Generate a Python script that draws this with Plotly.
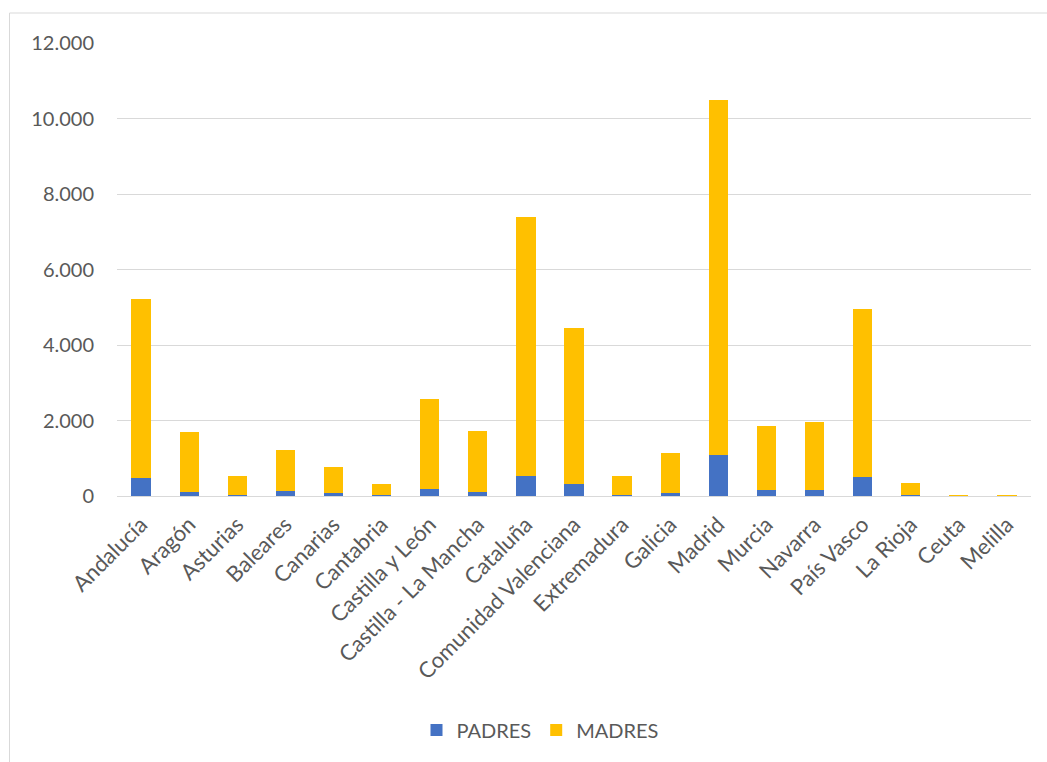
import plotly.graph_objects as go

regiones = [
    "Andalucía", "Aragón", "Asturias", "Baleares", "Canarias", "Cantabria",
    "Castilla y León", "Castilla - La Mancha", "Cataluña", "Comunidad Valenciana",
    "Extremadura", "Galicia", "Madrid", "Murcia", "Navarra", "País Vasco",
    "La Rioja", "Ceuta", "Melilla",
]
padres = [475, 100, 35, 130, 80, 20, 195, 115, 540, 325, 35, 90, 1090, 150, 165, 510, 20, 2, 2]
madres = [4750, 1590, 495, 1085, 680, 290, 2375, 1610, 6845, 4115, 495, 1045, 9405, 1700, 1790, 4435, 325, 8, 5]

AZUL = "#4472C4"
AMARILLO = "#FFC000"
GRIS_TEXTO = "#595959"
GRIS_LINEA = "#D9D9D9"
FUENTE = "Lato, Open Sans, sans-serif"

W, H = 1047, 762
L, R, T, B = 117, 16, 43, 266
pw, ph = W - L - R, H - T - B

fig = go.Figure()
fig.add_trace(go.Bar(x=regiones, y=padres, name="PADRES", marker=dict(color=AZUL, line=dict(width=0))))
fig.add_trace(go.Bar(x=regiones, y=madres, name="MADRES", marker=dict(color=AMARILLO, line=dict(width=0))))

# chart frame (only its top and left edges fall inside the page)
def px_x(p):
    return (p - L) / pw

def px_y(p):
    return (H - B - p) / ph

fig.add_shape(type="rect", xref="paper", yref="paper",
              x0=px_x(9.5), x1=px_x(1060), y0=px_y(790), y1=px_y(13),
              line=dict(color=GRIS_LINEA, width=1), layer="below")

fig.update_layout(
    width=W, height=H,
    margin=dict(l=L, r=R, t=T, b=B, pad=0),
    barmode="stack",
    bargap=0.6,
    separators=",.",
    paper_bgcolor="white",
    plot_bgcolor="white",
    font=dict(family=FUENTE, color=GRIS_TEXTO, size=20),
    showlegend=True,
    legend=dict(orientation="h", x=px_x(540), xanchor="center", y=px_y(730), yanchor="middle",
                font=dict(size=20, color=GRIS_TEXTO), traceorder="normal",
                itemwidth=30),
    xaxis=dict(
        tickangle=-45, tickfont=dict(size=22, color=GRIS_TEXTO),
        showgrid=False, showline=True, linecolor=GRIS_LINEA, linewidth=1,
        ticks="", fixedrange=True, ticklabelstandoff=6,
    ),
    yaxis=dict(
        range=[0, 12000], dtick=2000, tickformat=",d",
        showgrid=True, gridcolor=GRIS_LINEA, gridwidth=1,
        zeroline=False, showline=False, ticks="",
        ticklabelstandoff=22,
        tickfont=dict(size=20, color=GRIS_TEXTO),
    ),
)

fig.write_html("out.html")
